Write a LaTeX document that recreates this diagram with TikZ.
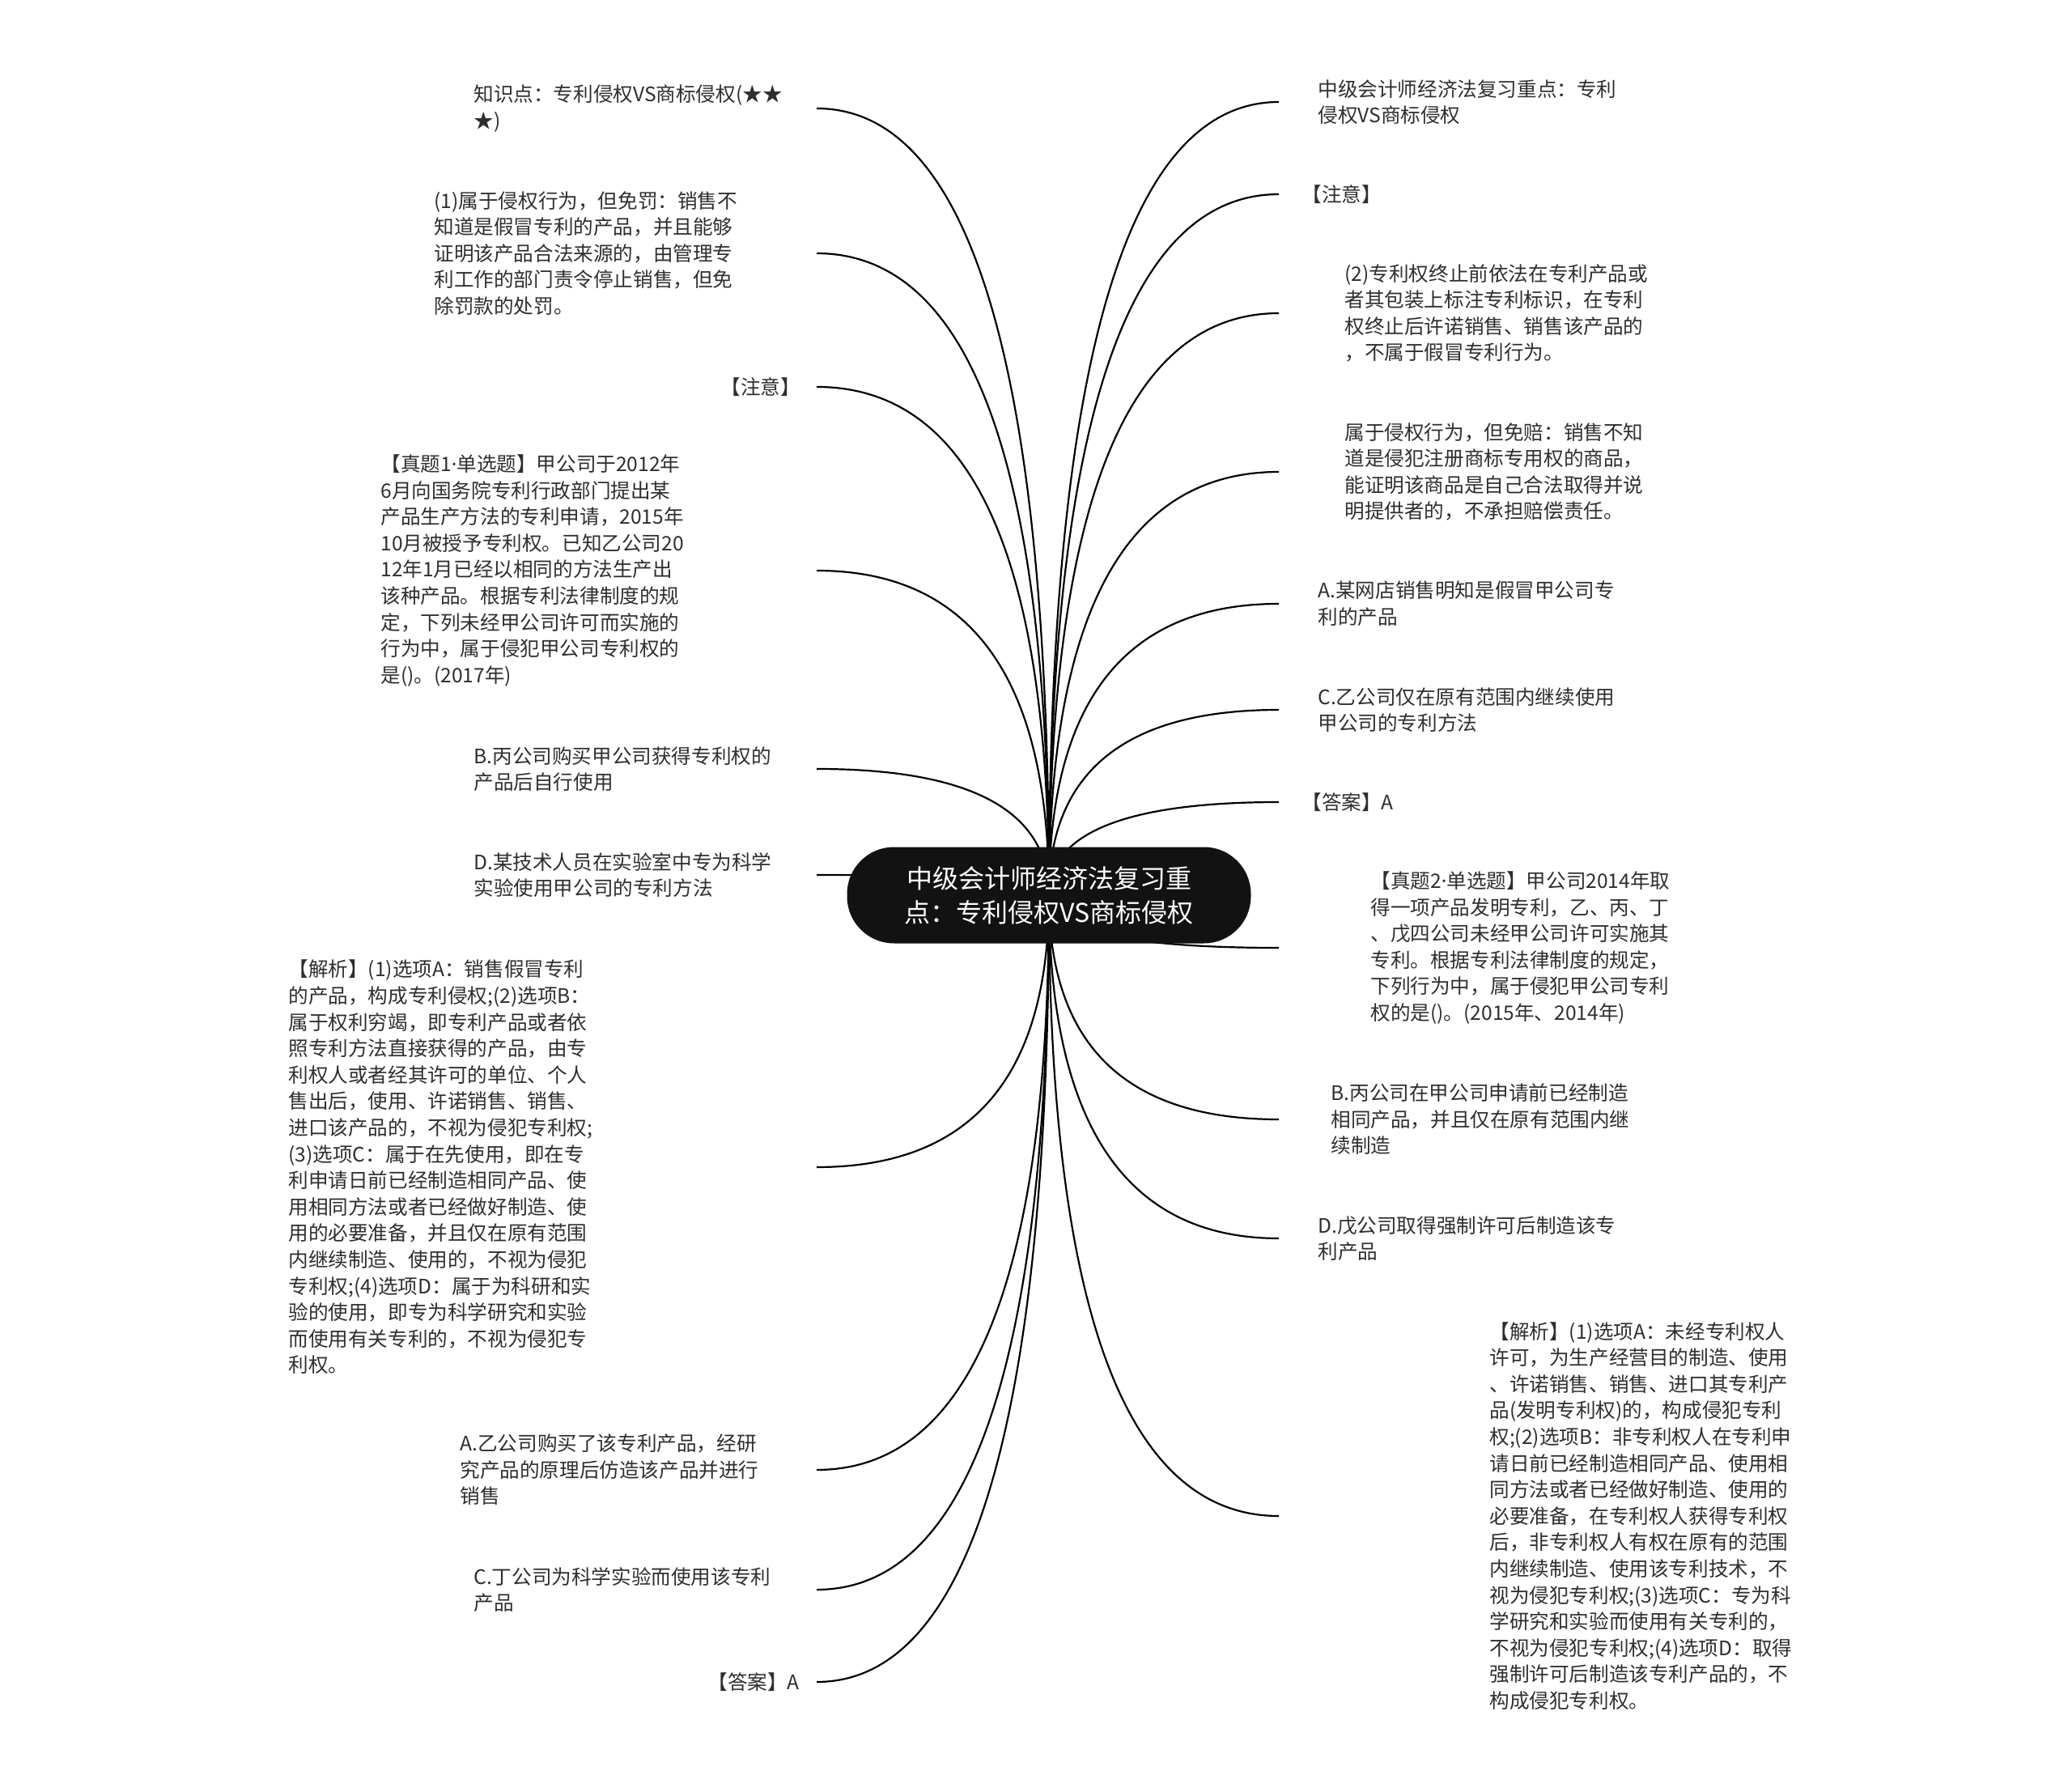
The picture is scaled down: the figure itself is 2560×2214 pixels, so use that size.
\documentclass[tikz,border=0pt]{standalone}
\usepackage{fontspec}
\setmainfont{Noto Sans CJK SC}
\newfontfamily\latinfont{Noto Sans}
\newcommand{\mdot}{{\latinfont ·}}
\usetikzlibrary{calc,backgrounds}

\tikzset{
  root/.style={fill=black!93, text=white, rounded corners=29pt,
    minimum width=249.5pt, minimum height=59.5pt, align=center,
    font=\fontsize{16}{21}\selectfont},
  leaf/.style={anchor=west, align=left, inner sep=0pt, text=black!82,
    font=\fontsize{12.3}{16.3}\selectfont},
  link/.style={line width=1.1pt, black}
}

\begin{document}
\begin{tikzpicture}[x=0.5pt, y=-0.5pt]
    \useasboundingbox (0,0) rectangle (2560,2214);

    % koren
    \node[root] (root) at (1296,1106) {中级会计师经济法复习重\\点：专利侵权VS商标侵权};

    % levá strana
    \node[leaf] (l1) at (585,134) {知识点：专利侵权VS商标侵权(★★\\★)};
    \node[leaf] (l2) at (536,313) {(1)属于侵权行为，但免罚：销售不\\知道是假冒专利的产品，并且能够\\证明该产品合法来源的，由管理专\\利工作的部门责令停止销售，但免\\除罚款的处罚。};
    \node[leaf] (l3) at (890,478) {【注意】};
    \node[leaf] (l4) at (470,705) {【真题1\mdot 单选题】甲公司于2012年\\6月向国务院专利行政部门提出某\\产品生产方法的专利申请，2015年\\10月被授予专利权。已知乙公司20\\12年1月已经以相同的方法生产出\\该种产品。根据专利法律制度的规\\定，下列未经甲公司许可而实施的\\行为中，属于侵犯甲公司专利权的\\是()。(2017年)};
    \node[leaf] (l5) at (585,950) {B.丙公司购买甲公司获得专利权的\\产品后自行使用};
    \node[leaf] (l6) at (585,1081) {D.某技术人员在实验室中专为科学\\实验使用甲公司的专利方法};
    \node[leaf] (l7) at (356,1442) {【解析】(1)选项A：销售假冒专利\\的产品，构成专利侵权;(2)选项B：\\属于权利穷竭，即专利产品或者依\\照专利方法直接获得的产品，由专\\利权人或者经其许可的单位、个人\\售出后，使用、许诺销售、销售、\\进口该产品的，不视为侵犯专利权;\\(3)选项C：属于在先使用，即在专\\利申请日前已经制造相同产品、使\\用相同方法或者已经做好制造、使\\用的必要准备，并且仅在原有范围\\内继续制造、使用的，不视为侵犯\\专利权;(4)选项D：属于为科研和实\\验的使用，即专为科学研究和实验\\而使用有关专利的，不视为侵犯专\\利权。};
    \node[leaf] (l8) at (568,1816) {A.乙公司购买了该专利产品，经研\\究产品的原理后仿造该产品并进行\\销售};
    \node[leaf] (l9) at (585,1964) {C.丁公司为科学实验而使用该专利\\产品};
    \node[leaf] (l10) at (874,2078) {【答案】A};

    % pravá strana
    \node[leaf] (r1) at (1628,126) {中级会计师经济法复习重点：专利\\侵权VS商标侵权};
    \node[leaf] (r2) at (1608,240) {【注意】};
    \node[leaf] (r3) at (1661,387) {(2)专利权终止前依法在专利产品或\\者其包装上标注专利标识，在专利\\权终止后许诺销售、销售该产品的\\，不属于假冒专利行为。};
    \node[leaf] (r4) at (1661,583) {属于侵权行为，但免赔：销售不知\\道是侵犯注册商标专用权的商品，\\能证明该商品是自己合法取得并说\\明提供者的，不承担赔偿责任。};
    \node[leaf] (r5) at (1628,746) {A.某网店销售明知是假冒甲公司专\\利的产品};
    \node[leaf] (r6) at (1628,877) {C.乙公司仅在原有范围内继续使用\\甲公司的专利方法};
    \node[leaf] (r7) at (1608,991) {【答案】A};
    \node[leaf] (r8) at (1693,1171) {【真题2\mdot 单选题】甲公司2014年取\\得一项产品发明专利，乙、丙、丁\\、戊四公司未经甲公司许可实施其\\专利。根据专利法律制度的规定，\\下列行为中，属于侵犯甲公司专利\\权的是()。(2015年、2014年)};
    \node[leaf] (r9) at (1644,1383) {B.丙公司在甲公司申请前已经制造\\相同产品，并且仅在原有范围内继\\续制造};
    \node[leaf] (r10) at (1628,1530) {D.戊公司取得强制许可后制造该专\\利产品};
    \node[leaf] (r11) at (1840,1873) {【解析】(1)选项A：未经专利权人\\许可，为生产经营目的制造、使用\\、许诺销售、销售、进口其专利产\\品(发明专利权)的，构成侵犯专利\\权;(2)选项B：非专利权人在专利申\\请日前已经制造相同产品、使用相\\同方法或者已经做好制造、使用的\\必要准备，在专利权人获得专利权\\后，非专利权人有权在原有的范围\\内继续制造、使用该专利技术，不\\视为侵犯专利权;(3)选项C：专为科\\学研究和实验而使用有关专利的，\\不视为侵犯专利权;(4)选项D：取得\\强制许可后制造该专利产品的，不\\构成侵犯专利权。};

    % konce car
    \foreach \n/\y in {1/134,2/313,3/478,4/705,5/950,6/1081,7/1442,8/1816,9/1964,10/2078}
        \coordinate (el\n) at (1009,\y);
    \foreach \n/\y in {1/126,2/240,3/387,4/583,5/746,6/877,7/991,8/1171,9/1383,10/1530,11/1873}
        \coordinate (er\n) at (1580,\y);

    % cary
    \begin{scope}[on background layer]
        \foreach \e in {el1,el2,el3,el4,el5,el6,el7,el8,el9,el10,er1,er2,er3,er4,er5,er6,er7,er8,er9,er10,er11}
            \draw[link] (root.center) .. controls ($(root.center)!.667!(root.center |- \e)$)
                and ($(\e)!.667!(root.center |- \e)$) .. (\e);
    \end{scope}
\end{tikzpicture}
\end{document}
